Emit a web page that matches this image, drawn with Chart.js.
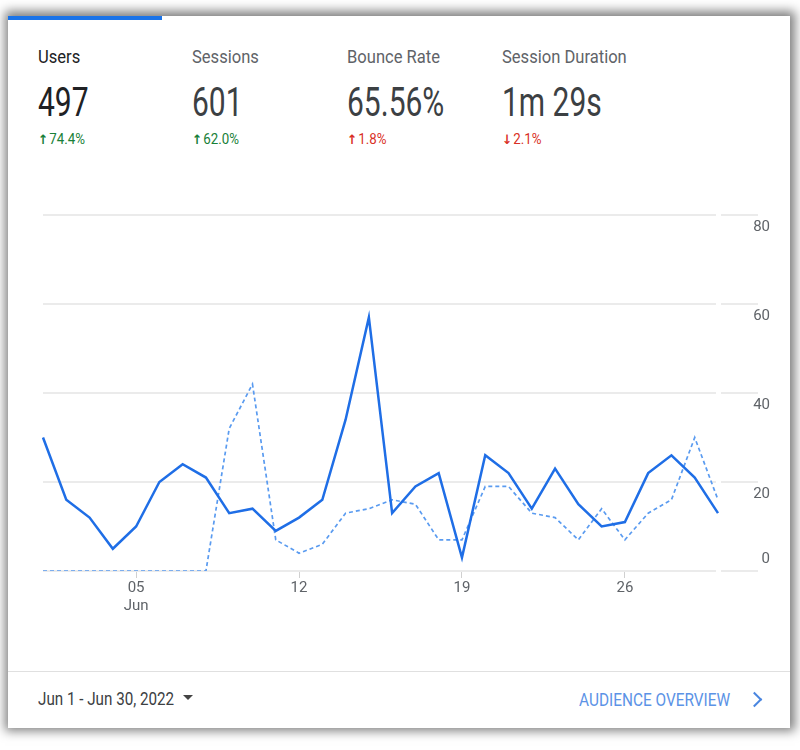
<!DOCTYPE html>
<html>
<head>
<meta charset="utf-8">
<script src="https://cdn.jsdelivr.net/npm/chart.js@4.4.0/dist/chart.umd.min.js"></script>
<style>
  html, body { margin:0; padding:0; width:800px; height:750px; overflow:hidden; background:#fff; font-family:Roboto, sans-serif; }
  .card { position:absolute; left:8px; top:16px; width:782px; height:712px; background:#fff; box-shadow:1px -1px 10px 4px rgba(0,0,0,.5); }
  .tab { position:absolute; left:8px; top:16px; width:154px; height:4px; background:#1a73e8; }
  .t { position:absolute; white-space:nowrap; transform-origin:0 0; }
  .lbl { top:48px; font-size:18px; line-height:18px; color:#5f6368; transform:scaleX(.92); }
  .lbl.on { color:#202124; }
  .val { top:83px; font-size:40px; line-height:40px; color:#3c4043; transform:scaleX(.75); }
  .val.on { color:#202124; }
  .dlt { top:132px; font-size:14px; line-height:14px; transform:scaleX(.95); }
  .dlt b { font-family:"DejaVu Sans", sans-serif; font-weight:bold; font-size:13px; margin-right:1px; }
  .up { color:#188038; }
  .bad { color:#d93025; }
  #wrap { position:absolute; left:40px; top:200px; width:730px; height:420px; }
  .rule { position:absolute; left:8px; top:671px; width:782px; height:1px; background:#e0e0e0; }
  .date { left:38px; top:689px; font-size:19px; line-height:19px; color:#3c4043; transform:scaleX(.8); }
  .caret { position:absolute; left:183px; top:695px; width:0; height:0; border-left:5px solid transparent; border-right:5px solid transparent; border-top:5px solid #444; }
  .link { left:579px; top:690px; font-size:19px; line-height:19px; color:#5c93e6; transform:scaleX(.81); }
  .chev { position:absolute; left:749px; top:694px; width:11px; height:11px; box-sizing:border-box; border-top:2.5px solid #4a86e0; border-right:2.5px solid #4a86e0; transform:rotate(45deg); }
</style>
</head>
<body>
<div class="card"></div>
<div class="tab"></div>

<div class="t lbl on" style="left:38px">Users</div>
<div class="t val on" style="left:38px">497</div>
<div class="t dlt up" style="left:38px"><b>↑</b>74.4%</div>

<div class="t lbl" style="left:192px">Sessions</div>
<div class="t val" style="left:192px">601</div>
<div class="t dlt up" style="left:192px"><b>↑</b>62.0%</div>

<div class="t lbl" style="left:347px">Bounce Rate</div>
<div class="t val" style="left:347px">65.56%</div>
<div class="t dlt bad" style="left:347px"><b>↑</b>1.8%</div>

<div class="t lbl" style="left:502px">Session Duration</div>
<div class="t val" style="left:502px">1m 29s</div>
<div class="t dlt bad" style="left:502px"><b>↓</b>2.1%</div>

<div id="wrap"><canvas id="usersChart"></canvas></div>

<div class="rule"></div>
<div class="t date">Jun 1 - Jun 30, 2022</div>
<div class="caret"></div>
<div class="t link">AUDIENCE OVERVIEW</div>
<div class="chev"></div>

<script>
  // ---- data ----
  const days = ['01','02','03','04','05','06','07','08','09','10','11','12','13','14','15',
                '16','17','18','19','20','21','22','23','24','25','26','27','28','29','30'];
  const tickDays = ['05','12','19','26'];
  const monthName = 'Jun';
  const usersJun = [30,16,12,5,10,20,24,21,13,14,9,12,16,34,57,13,19,22,3,26,22,14,23,15,10,11,22,26,21,13];
  const usersPrev = [0,0,0,0,0,0,0,0,32,42,7,4,6,13,14,16,15,7,7,19,19,13,12,7,14,7,13,16,30,16];
  const yTicks = { min:0, max:80, step:20 };

  const ctx = document.getElementById('usersChart').getContext('2d');
  new Chart(ctx, {
    type:'line',
    data:{
      labels:days,
      datasets:[
        { label:'Users', data:usersJun, borderColor:'#1f6ee6', borderWidth:2.5, pointRadius:0, tension:0, fill:false },
        { label:'Users (previous)', data:usersPrev, borderColor:'#5a9bf0', borderWidth:1.7, borderDash:[4,3], pointRadius:0, tension:0, fill:false }
      ]
    },
    options:{
      responsive:true,
      maintainAspectRatio:false,
      animation:false,
      layout:{ padding:{ left:3, top:15, right:0, bottom:0 } },
      plugins:{ legend:{ display:false }, tooltip:{ enabled:false } },
      scales:{
        x:{
          grid:{ display:true, drawOnChartArea:false, tickLength:7, color:'#d0d0d0' },
          border:{ display:false },
          ticks:{
            autoSkip:false, maxRotation:0, minRotation:0, padding:1,
            color:'#5f6368', font:{ family:'Roboto', size:15 },
            callback:(v, i) => {
              const d = days[i];
              if (!tickDays.includes(d)) return null;
              return d === tickDays[0] ? [d, monthName] : d;
            }
          },
          afterFit:(s) => { s.height = 49; s.paddingLeft = 0; s.paddingRight = 0; }
        },
        y:{
          position:'right',
          min:yTicks.min, max:yTicks.max,
          grid:{ color:'#ebebeb', lineWidth:2, tickLength:40 },
          border:{ display:true, color:'#ffffff', width:5 },
          ticks:{
            stepSize:yTicks.step, padding:-15, crossAlign:'far',
            color:'#5f6368', font:{ family:'Roboto', size:15, lineHeight:1.6 },
            callback:(v) => v === 0 ? [String(v), ''] : ['', String(v)]
          },
          afterFit:(s) => { s.width = 52; s.paddingTop = 0; s.paddingBottom = 0; }
        }
      }
    }
  });
</script>
</body>
</html>
